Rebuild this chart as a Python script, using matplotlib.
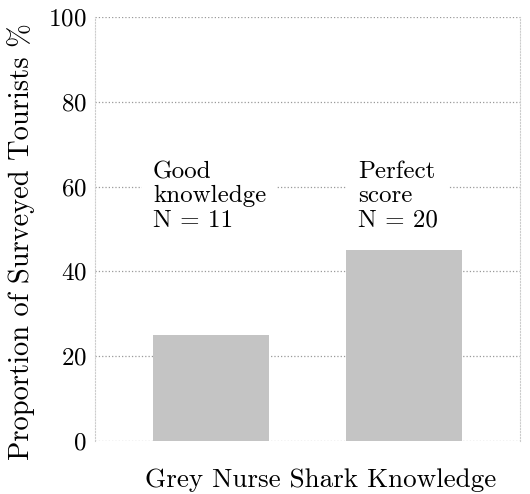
import matplotlib
matplotlib.use('Agg')
import matplotlib.pyplot as plt

plt.rcParams['font.family'] = ['cmr10', 'DejaVu Serif']
plt.rcParams['mathtext.fontset'] = 'cm'
plt.rcParams['axes.formatter.use_mathtext'] = True

# data
categories = ['Good\nknowledge\nN = 11', 'Perfect\nscore\nN = 20']
values = [25, 45]
yticks = [0, 20, 40, 60, 80, 100]

fig = plt.figure(figsize=(5.3, 4.94), dpi=100)
ax = fig.add_axes([0.179, 0.107, 0.802, 0.859])

x = list(range(len(values)))
ax.bar(x, values, width=0.6, color='#c4c4c4', zorder=2)

# text labels above the bars, left aligned near bar edge
offsets = [0.0, 0.062]
for xi, lab, off in zip(x, categories, offsets):
    ax.text(xi - 0.3 + off, 66, lab, ha='left', va='top', fontsize=18,
            linespacing=1.12, zorder=3,
            bbox=dict(facecolor='white', edgecolor='none', pad=8))

ax.set_xlim(-0.6, 1.6)
ax.set_ylim(0, 100)
ax.set_yticks(yticks)
ax.set_xticks([])
ax.tick_params(axis='y', length=0, labelsize=18, pad=6)
ax.yaxis.grid(True, linestyle=':', color='#999999', linewidth=0.9, zorder=1)
ax.set_axisbelow(True)

for s in ['top', 'bottom']:
    ax.spines[s].set_visible(False)
for s in ['left', 'right']:
    ax.spines[s].set_linestyle(':')
    ax.spines[s].set_color('#cccccc')
    ax.spines[s].set_linewidth(0.8)

ax.set_ylabel('Proportion of Surveyed Tourists %', fontsize=20.5)
ax.yaxis.set_label_coords(-0.14, 0.47)
ax.set_xlabel('Grey Nurse Shark Knowledge', fontsize=19.5)
ax.xaxis.set_label_coords(0.532, -0.064)

fig.savefig('out.png', dpi=100)
